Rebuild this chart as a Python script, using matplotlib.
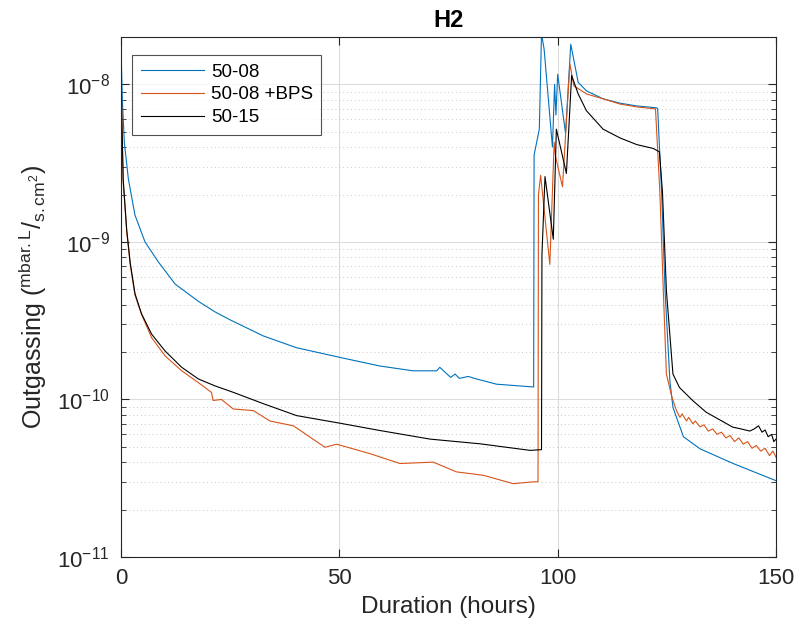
import matplotlib

matplotlib.use("Agg")
import matplotlib.pyplot as plt
import numpy as np
from matplotlib.ticker import LogLocator, FixedLocator, NullFormatter

plt.rcParams["font.family"] = ["Liberation Sans", "DejaVu Sans"]
plt.rcParams["mathtext.fontset"] = "custom"
plt.rcParams["mathtext.rm"] = "Liberation Sans"
plt.rcParams["mathtext.it"] = "Liberation Sans:italic"
plt.rcParams["mathtext.bf"] = "Liberation Sans:bold"

# --- data (hours, mbar.L/s.cm2) ---------------------------------------------
t_5008 = [0.0, 0.3, 0.76, 1.67, 3.2, 5.5, 8.5, 12.4, 17.7, 21.5, 25.0, 32.6,
          40.2, 50.1, 59.3, 66.9, 72.3, 73.0, 75.5, 76.5, 77.5, 79.5, 81.4,
          86.0, 94.5, 94.6, 95.8, 96.3, 96.9, 98.8, 99.3, 99.6, 100.0, 101.8,
          103.0, 104.7, 106.6, 110.4, 114.3, 118.1, 122.7, 122.9, 123.8, 124.6,
          125.7, 126.4, 128.8, 132.6, 140.2, 150.0]
v_5008 = [1.72e-8, 8.1e-9, 4.3e-9, 2.53e-9, 1.48e-9, 1.0e-9, 7.5e-10, 5.4e-10,
          4.2e-10, 3.6e-10, 3.2e-10, 2.53e-10, 2.13e-10, 1.85e-10, 1.63e-10,
          1.52e-10, 1.52e-10, 1.6e-10, 1.38e-10, 1.45e-10, 1.36e-10, 1.40e-10,
          1.35e-10, 1.25e-10, 1.2e-10, 3.56e-9, 5.2e-9, 2.1e-8, 1.67e-8, 4.0e-9,
          1.0e-8, 6.4e-9, 1.16e-8, 4.9e-9, 1.8e-8, 1.03e-8, 9.1e-9, 8.1e-9,
          7.6e-9, 7.3e-9, 7.1e-9, 7.0e-9, 2.08e-9, 4.87e-10, 1.31e-10, 8.9e-11,
          5.8e-11, 4.86e-11, 3.92e-11, 3.05e-11]

t_bps = [0.0, 0.3, 0.5, 1.3, 2.1, 3.2, 4.7, 7.0, 10.1, 13.9, 17.7, 20.7, 21.1,
         23.0, 25.7, 30.3, 34.1, 39.5, 43.3, 46.7, 49.4, 57.0, 63.9, 71.5,
         76.8, 83.0, 89.8, 94.4, 95.5, 95.6, 96.1, 98.2, 99.2, 99.5, 101.1,
         102.8, 103.7, 106.6, 110.4, 114.3, 118.1, 122.2, 122.4, 123.4, 124.2,
         124.9, 126.1, 127.2, 128.0, 128.5, 129.5, 130.0, 131.0, 131.5, 132.6,
         133.5, 134.5, 135.5, 136.5, 137.5, 138.5, 139.5, 140.5, 141.5, 142.5,
         143.5, 144.5, 145.5, 146.5, 147.5, 148.5, 149.3, 150.0]
v_bps = [1.19e-8, 4.3e-9, 2.4e-9, 1.17e-9, 7.2e-10, 4.6e-10, 3.47e-10,
         2.47e-10, 1.89e-10, 1.52e-10, 1.28e-10, 1.11e-10, 9.85e-11, 1.0e-10,
         8.7e-11, 8.5e-11, 7.3e-11, 6.8e-11, 5.76e-11, 4.97e-11, 5.2e-11,
         4.53e-11, 3.92e-11, 4.0e-11, 3.47e-11, 3.3e-11, 2.92e-11, 3.0e-11,
         3.0e-11, 2.0e-9, 2.65e-9, 7.2e-10, 4.3e-9, 3.5e-9, 2.24e-9, 1.35e-8,
         9.8e-9, 8.7e-9, 8.1e-9, 7.5e-9, 7.2e-9, 7.0e-9, 7.0e-9, 2.08e-9,
         4.87e-10, 1.45e-10, 1.05e-10, 8.5e-11, 7.7e-11, 8.1e-11, 7.3e-11,
         7.7e-11, 7.0e-11, 7.3e-11, 6.7e-11, 6.9e-11, 6.3e-11, 6.5e-11, 6.0e-11,
         6.2e-11, 5.7e-11, 5.9e-11, 5.4e-11, 5.7e-11, 5.2e-11, 5.4e-11, 4.9e-11,
         5.1e-11, 4.7e-11, 4.9e-11, 4.4e-11, 4.7e-11, 4.3e-11]

t_5015 = [0.0, 0.3, 0.5, 1.3, 2.1, 3.2, 4.7, 7.0, 10.1, 13.9, 17.7, 21.5, 25.7,
          32.6, 40.2, 50.1, 59.3, 70.8, 82.2, 93.7, 96.3, 96.4, 97.1, 99.0,
          99.7, 102.0, 103.2, 104.7, 106.6, 110.4, 114.3, 118.1, 121.9, 123.3,
          124.0, 124.9, 126.4, 127.9, 131.0, 134.0, 140.1, 142.0, 144.0, 145.0,
          146.0, 146.8, 147.5, 148.2, 149.0, 149.5, 150.0]
v_5015 = [1.05e-8, 4.5e-9, 2.5e-9, 1.2e-9, 7.4e-10, 4.7e-10, 3.5e-10, 2.6e-10,
          2.03e-10, 1.6e-10, 1.35e-10, 1.22e-10, 1.11e-10, 9.4e-11, 7.9e-11,
          7.07e-11, 6.35e-11, 5.6e-11, 5.23e-11, 4.75e-11, 4.8e-11, 8.3e-10,
          2.6e-9, 1.04e-9, 5.2e-9, 2.72e-9, 1.14e-8, 8.7e-9, 6.8e-9, 5.2e-9,
          4.57e-9, 4.15e-9, 3.92e-9, 3.73e-9, 2.08e-9, 4.9e-10, 1.45e-10,
          1.19e-10, 9.8e-11, 8.3e-11, 6.67e-11, 6.5e-11, 6.3e-11, 6.5e-11,
          6.8e-11, 6.2e-11, 6.4e-11, 5.8e-11, 6.0e-11, 5.4e-11, 5.6e-11]

labels = ["50-08", "50-08 +BPS", "50-15"]
colors = ["#0072BD", "#D95319", "#000000"]

fig = plt.figure(figsize=(8.0, 6.29), dpi=100)
ax = fig.add_axes([0.15125, 0.1145, 0.81875, 0.8267])

for t, v, lab, c in zip([t_5008, t_bps, t_5015], [v_5008, v_bps, v_5015], labels, colors):
    ax.plot(t, v, color=c, lw=0.8, label=lab)

ax.set_yscale("log")
ax.set_xlim(0, 150)
ax.set_ylim(1e-11, 2e-8)
ax.xaxis.set_major_locator(FixedLocator([0, 50, 100, 150]))
ax.yaxis.set_major_locator(LogLocator(base=10, numticks=10))
ax.yaxis.set_minor_locator(LogLocator(base=10, subs=np.arange(2, 10), numticks=20))
ax.yaxis.set_minor_formatter(NullFormatter())

ax.grid(True, which="major", color="#dcdcdc", lw=0.8, ls="-")
ax.grid(True, which="minor", axis="y", color="#c8c8c8", lw=0.7, ls=(0, (1, 3)))
ax.set_axisbelow(True)

ax.tick_params(which="both", direction="in", top=True, right=True, colors="#262626",
               labelsize=16, labelcolor="#262626")
ax.tick_params(which="major", length=6, width=0.8, pad=8)
ax.tick_params(which="minor", length=3.5, width=0.6)
for s in ax.spines.values():
    s.set_color("#262626")
    s.set_linewidth(0.8)

ax.set_xlabel("Duration (hours)", fontsize=17.5, color="#262626", labelpad=5)
ax.set_ylabel(r"Outgassing (${}^{\mathrm{mbar{.}L}}/{}_{\mathrm{s{.}cm}^{2}}$)",
              fontsize=18, color="#262626", labelpad=6)
ax.set_title("H2", fontsize=17, fontweight="bold", color="#000000", pad=7)

leg = ax.legend(loc="upper left", bbox_to_anchor=(0.017, 0.965), borderaxespad=0,
                fontsize=13.5, frameon=True, fancybox=False, edgecolor="#262626",
                handlelength=3.4, borderpad=0.45, labelspacing=0.3, handletextpad=0.35)
leg.get_frame().set_linewidth(0.8)

fig.savefig("out.png", dpi=100)
